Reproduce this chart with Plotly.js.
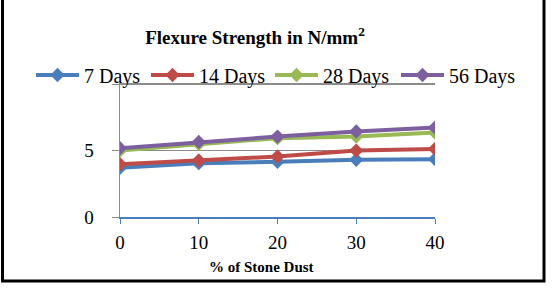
<!DOCTYPE html>
<html><head><meta charset="utf-8">
<script src="https://cdn.plot.ly/plotly-3.0.1.min.js"></script>
<style>html,body{margin:0;padding:0;background:#fff}#chart{width:552px;height:288px}</style>
</head><body><div id="chart"></div>
<script>
const stoneDust = [0, 10, 20, 30, 40];
const seriesNames = ["7 Days", "14 Days", "28 Days", "56 Days"];
const days7 = [3.7, 4.05, 4.15, 4.3, 4.35];
const days14 = [3.97, 4.25, 4.55, 5.0, 5.12];
const days28 = [5.0, 5.5, 5.93, 6.05, 6.35];
const days56 = [5.18, 5.65, 6.05, 6.43, 6.73];
const yTickVals = [0, 5, 10];
const yTickText = ["0", "5", ""];
const colors = ["#4a7ebb", "#be4b48", "#98b954", "#7d5fa0"];
const allSeries = [days7, days14, days28, days56];
const legendIds = ["legend", "legend2", "legend3", "legend4"];
const legendLineStarts = [37, 152, 276, 402];

const traces = allSeries.map((ys, i) => ({
  x: stoneDust, y: ys, name: seriesNames[i], type: "scatter", mode: "lines+markers",
  legend: legendIds[i],
  line: {color: colors[i], width: 4},
  marker: {symbol: "diamond", size: 11, color: colors[i]}
}));

const L = 120, R = 435, T = 83, B = 217;
const W = R - L, H = B - T;
const px = v => (v - L) / W;
const py = v => (B - v) / H;

const layout = {
  width: 552, height: 288,
  margin: {l: L, r: 552 - R, t: T, b: 288 - B},
  paper_bgcolor: "#fff", plot_bgcolor: "#fff",
  font: {family: "Liberation Serif, Times New Roman, serif", color: "#000"},
  title: {text: "<b>Flexure Strength in N/mm<sup>2</sup></b>", font: {size: 19, family: "Liberation Serif"},
          x: 255/552, xanchor: "center", y: 1 - 37/288, yanchor: "middle", xref: "container", yref: "container"},
  showlegend: true,
  xaxis: {range: [0, 40], tickvals: stoneDust, showgrid: false, zeroline: false,
          showline: true, linecolor: "#4a7ebb", linewidth: 1.5, ticks: "outside", ticklen: 5, tickcolor: "#4a7ebb",
          tickfont: {size: 19}, ticklabelstandoff: 3, fixedrange: true},
  yaxis: {range: [0, 10.08], tickvals: yTickVals, ticktext: yTickText, showgrid: true, gridcolor: "#8c8c8c", gridwidth: 1.2, zeroline: false,
          showline: true, linecolor: "#8c8c8c", linewidth: 1.5, ticks: "outside", ticklen: 7, tickcolor: "#8c8c8c",
          tickfont: {size: 19}, ticklabelstandoff: 14, fixedrange: true},
  annotations: [{text: "<b>% of Stone Dust</b>", xref: "paper", yref: "paper", x: px(261), y: py(267),
                 xanchor: "center", yanchor: "middle", showarrow: false, font: {size: 15, family: "Liberation Serif"}}],
  shapes: [{type: "path", xref: "paper", yref: "paper",
            path: `M ${px(2.5)} ${py(-10)} L ${px(2.5)} ${py(281)} L ${px(544)} ${py(281)} L ${px(544)} ${py(-10)}`,
            line: {color: "#000", width: 3}}]
};
legendIds.forEach((id, i) => {
  layout[id] = {orientation: "h", x: px(legendLineStarts[i] - 6), xanchor: "left", y: py(75), yanchor: "middle",
                font: {size: 20, family: "Liberation Serif"}, bgcolor: "rgba(0,0,0,0)", itemwidth: 43};
});
Plotly.newPlot("chart", traces, layout, {displayModeBar: false, staticPlot: true});
</script></body></html>
